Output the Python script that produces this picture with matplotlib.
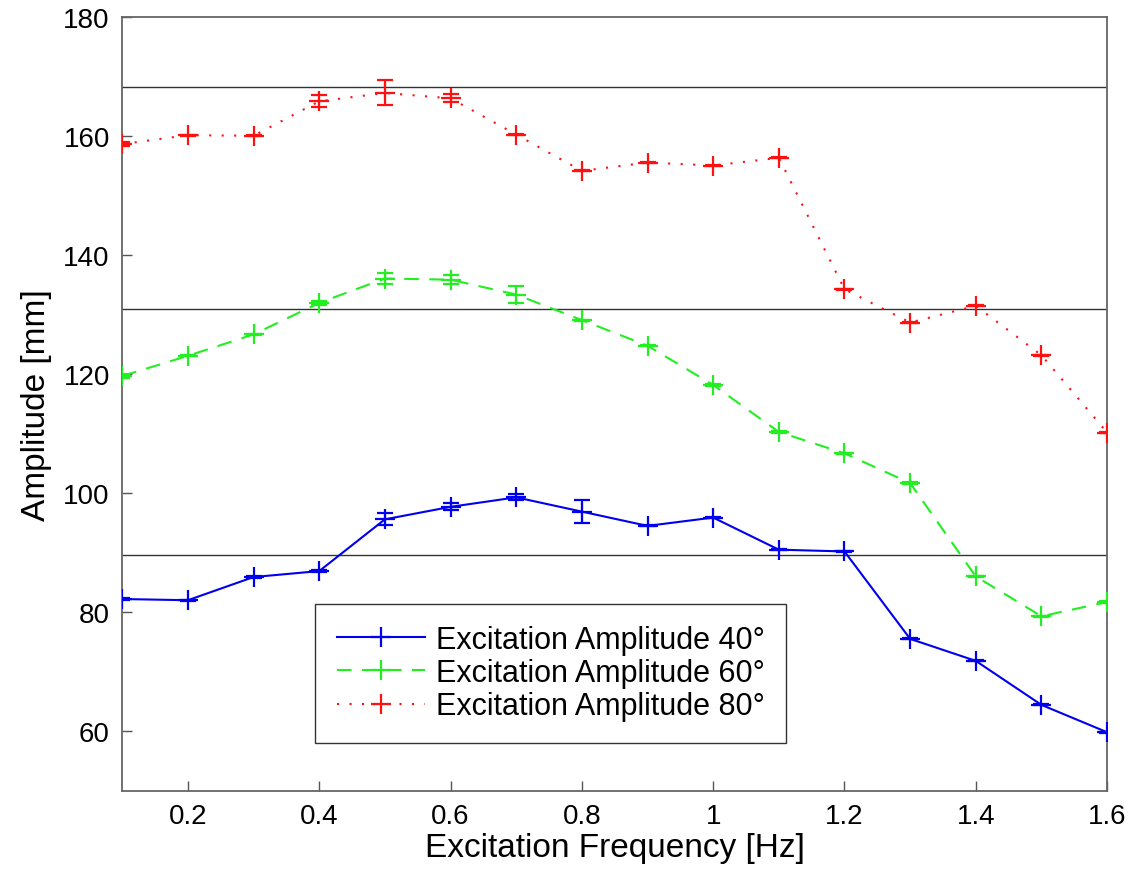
import matplotlib
matplotlib.use("Agg")
import matplotlib.pyplot as plt

freq = [0.1, 0.2, 0.3, 0.4, 0.5, 0.6, 0.7, 0.8, 0.9, 1.0, 1.1, 1.2, 1.3, 1.4, 1.5, 1.6]

amp40 = [82.2, 82.0, 85.9, 86.9, 95.6, 97.7, 99.3, 96.9, 94.5, 95.9, 90.5, 90.2, 75.5, 71.8, 64.4, 59.8]
err40 = [0.1, 0.1, 0.1, 0.1, 1.0, 0.6, 0.5, 1.9, 0.1, 0.1, 0.1, 0.1, 0.1, 0.1, 0.1, 0.1]

amp60 = [119.7, 123.1, 126.7, 132.0, 136.1, 135.9, 133.4, 129.1, 124.8, 118.2, 110.3, 106.7, 101.7, 86.0, 79.3, 81.7]
err60 = [0.3, 0.1, 0.1, 0.4, 1.0, 0.8, 1.4, 0.1, 0.1, 0.1, 0.1, 0.1, 0.1, 0.1, 0.1, 0.1]

amp80 = [158.7, 160.2, 160.1, 165.9, 167.3, 166.4, 160.3, 154.2, 155.6, 155.1, 156.4, 134.3, 128.7, 131.5, 123.2, 110.2]
err80 = [0.4, 0.1, 0.1, 1.0, 2.1, 0.7, 0.1, 0.1, 0.1, 0.1, 0.1, 0.1, 0.1, 0.1, 0.1, 0.1]

ref_levels = [168.3, 130.9, 89.6]

plt.rcParams["font.family"] = ["Liberation Sans", "DejaVu Sans"]

fig = plt.figure(figsize=(11.32, 8.78), dpi=100)
ax = fig.add_axes([0.108, 0.0985, 0.870, 0.8805])

for lvl in ref_levels:
    ax.axhline(lvl, color="#333333", lw=1.0, zorder=1)

series = [
    (amp40, err40, "#0000ee", "-", "Excitation Amplitude 40°"),
    (amp60, err60, "#22ee22", (0, (7, 5)), "Excitation Amplitude 60°"),
    (amp80, err80, "#ff1111", (0, (1, 5)), "Excitation Amplitude 80°"),
]
handles = []
for y, e, c, ls, lab in series:
    cont = ax.errorbar(freq, y, yerr=e, color=c, ls=ls, lw=1.5, marker="+",
                       markersize=15, mew=1.6, capsize=5.5, elinewidth=1.5,
                       capthick=1.5, label=lab, zorder=3)
    handles.append(cont.lines[0])

ax.set_xlim(0.1, 1.6)
ax.set_ylim(50, 180)
ax.set_xticks([0.2, 0.4, 0.6, 0.8, 1.0, 1.2, 1.4, 1.6])
ax.set_xticklabels(["0.2", "0.4", "0.6", "0.8", "1", "1.2", "1.4", "1.6"])
ax.set_yticks([60, 80, 100, 120, 140, 160, 180])
ax.tick_params(direction="in", length=7, width=1, colors="#555555",
               labelcolor="black", labelsize=20, pad=9)
for s in ax.spines.values():
    s.set_color("#666666")
    s.set_linewidth(1.3)

ax.set_xlabel("Excitation Frequency [Hz]", fontsize=24, labelpad=2)
ax.set_ylabel("Amplitude [mm]", fontsize=24, labelpad=8)

leg = ax.legend(handles, [s[4] for s in series], loc="lower left",
                bbox_to_anchor=(0.196, 0.062), fontsize=22,
                handlelength=2.9, labelspacing=0.1, borderpad=0.7,
                handletextpad=0.35, borderaxespad=0, fancybox=False,
                framealpha=1, edgecolor="#333333")
leg.get_frame().set_linewidth(1.0)

fig.savefig("out.png", dpi=100)
